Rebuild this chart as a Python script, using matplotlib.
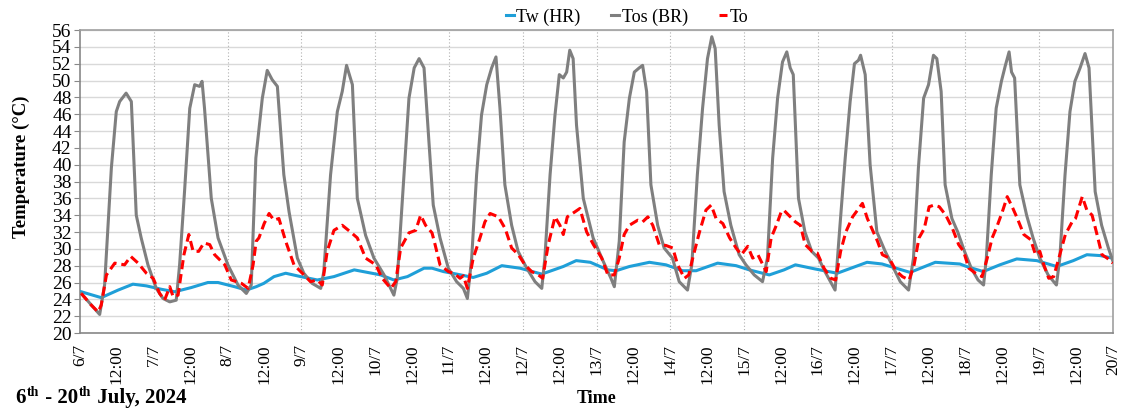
import matplotlib
matplotlib.use("Agg")
import matplotlib.pyplot as plt

# ---------------------------------------------------------------------------
# Data (hours since 6/7 00:00, temperature in degC)
# ---------------------------------------------------------------------------

tw_hours = [0.4, 6.9, 12.4, 17.2, 21.6, 26.4, 30.8, 36.2, 41.6, 44.9, 50.3, 54.1,
            57.3, 59.8, 63.1, 66.9, 71.8, 77.2, 82.6, 89.2, 93.5, 97.8, 102.1,
            106.5, 111.9, 114.5, 118.2, 122.5, 127.9, 132.3, 137.2, 143.1, 150.2,
            157.2, 161.4, 166.0, 171.7, 174.4, 178.7, 185.2, 190.6, 196.0, 200.4,
            207.4, 213.4, 217.7, 224.2, 229.0, 232.7, 239.2, 246.3, 256.0, 260.9,
            270.0, 278.2, 286.2, 288.4, 293.8, 299.2, 304.7, 311.2, 317.7, 323.1,
            327.5, 331.8, 335.8]
tw_vals = [24.9, 24.2, 25.1, 25.8, 25.6, 25.2, 24.9, 25.4, 26.0, 26.0, 25.5, 25.1,
           25.5, 25.9, 26.7, 27.1, 26.7, 26.3, 26.7, 27.5, 27.2, 26.9, 26.3,
           26.7, 27.7, 27.7, 27.3, 27.0, 26.6, 27.1, 28.0, 27.7, 27.0,
           27.9, 28.6, 28.4, 27.5, 27.4, 27.9, 28.4, 28.1, 27.4, 27.4,
           28.3, 28.0, 27.5, 26.9, 27.5, 28.1, 27.6, 27.1, 28.4, 28.2,
           27.2, 28.4, 28.2, 27.9, 27.3, 28.1, 28.8, 28.6, 27.9, 28.6,
           29.3, 29.2, 28.9]

tos_hours = [0.4, 6.4, 8.0, 10.2, 11.8, 12.9, 15.0, 16.7, 18.3, 19.9, 22.1, 24.8,
             27.0, 29.2, 31.3, 32.4, 34.0, 35.7, 37.3, 38.9, 39.7, 40.5, 42.7,
             44.9, 48.1, 51.4, 54.1, 55.7, 57.2, 59.3, 60.9, 62.5, 64.2, 66.3,
             68.0, 70.7, 72.8, 75.5, 78.3, 79.3, 81.5, 83.7, 85.3, 86.7, 88.6,
             90.2, 92.9, 95.6, 98.9, 102.1, 103.2, 105.4, 107.0, 108.7, 110.3,
             111.9, 113.5, 114.9, 117.1, 119.8, 122.5, 124.7, 126.0, 127.4, 129.0,
             130.6, 132.3, 133.9, 135.3, 136.6, 138.2, 140.4, 142.5, 145.3, 148.0,
             150.2, 151.2, 152.9, 154.5, 155.9, 157.2, 158.3, 159.3, 160.4, 161.5,
             163.7, 166.9, 170.2, 172.7, 173.8, 175.4, 177.0, 178.7, 180.3, 181.9,
             183.0, 184.3, 185.7, 187.9, 190.0, 192.7, 194.9, 197.6, 199.0, 200.8,
             202.5, 204.1, 205.5, 206.6, 207.9, 209.5, 211.7, 214.4, 216.6, 219.3,
             222.0, 223.6, 225.3, 226.9, 228.5, 229.9, 231.0, 232.0, 233.7, 235.8,
             238.0, 240.2, 242.3, 245.6, 247.2, 248.9, 250.5, 251.9, 253.2, 253.9,
             255.4, 257.0, 259.2, 261.9, 264.1, 266.8, 269.5, 271.1, 272.7, 274.4,
             276.0, 277.6, 278.7, 280.1, 281.4, 283.6, 285.5, 287.7, 289.9, 292.1,
             293.9, 294.8, 296.4, 298.0, 299.7, 301.0, 302.2, 303.0, 304.0, 305.7,
             307.9, 310.0, 312.2, 314.9, 317.6, 318.7, 320.4, 322.0, 323.6, 325.3,
             326.9, 328.2, 330.2, 332.3, 334.5, 336.0]
tos_vals = [24.7, 22.2, 25.7, 39.6, 46.3, 47.5, 48.5, 47.5, 34.0, 31.3, 28.1, 25.3,
            24.1, 23.7, 23.9, 28.1, 36.8, 46.7, 49.5, 49.3, 49.9, 46.7, 36.0,
            31.3, 28.1, 25.7, 24.7, 25.7, 40.8, 47.9, 51.2, 50.1, 49.3, 38.8,
            34.4, 28.9, 27.1, 25.9, 25.3, 27.3, 38.8, 46.3, 48.7, 51.8, 49.5,
            36.0, 31.6, 28.9, 26.9, 24.5, 26.5, 38.8, 47.9, 51.5, 52.6,
            51.5, 42.7, 35.2, 31.3, 27.7, 26.1, 25.3, 24.1, 28.9, 38.8,
            45.9, 49.5, 51.5, 52.8, 46.7, 37.6, 32.8, 29.7, 27.7, 26.1,
            25.3, 28.9, 38.8, 45.9, 50.7, 50.3, 51.0, 53.6, 52.6, 44.7,
            36.0, 31.3, 28.5, 26.5, 25.5, 30.9, 42.7, 47.9, 51.0, 51.5,
            51.8, 48.7, 37.6, 32.8, 30.1, 28.9, 26.1, 25.1, 28.1, 38.8,
            46.7, 52.6, 55.2, 53.8, 44.7, 36.8, 32.8, 29.3, 28.1, 26.9,
            26.1, 28.9, 40.8, 47.9, 52.2, 53.4, 51.5, 50.7, 36.0, 32.0,
            29.7, 28.9, 27.3, 25.1, 32.8, 40.8, 47.5, 52.0, 52.4, 53.0,
            50.7, 40.0, 32.0, 29.7, 28.1, 26.1, 25.1, 28.9, 39.6, 47.9,
            49.5, 53.0, 52.6, 48.7, 37.6, 33.6, 32.0, 29.7, 27.7, 26.3,
            25.7, 28.9, 38.8, 46.7, 49.9, 51.8, 53.4, 51.0, 50.3, 37.6,
            34.0, 31.3, 28.9, 26.9, 25.7, 28.9, 38.8, 46.3, 49.9, 51.5,
            53.2, 51.5, 36.8, 32.8, 30.1, 28.5]

to_hours = [0.4, 3.7, 5.9, 6.9, 8.6, 11.3, 14.5, 16.5, 18.9, 21.6, 23.8, 25.9,
            27.5, 29.2, 30.3, 31.9, 33.8, 35.4, 36.8, 38.6, 40.3, 42.2, 43.8,
            47.1, 49.2, 52.5, 54.7, 56.3, 57.3, 58.2, 59.9, 61.5, 63.1, 64.7,
            66.9, 69.6, 72.3, 75.0, 77.2, 78.8, 80.4, 82.6, 85.3, 88.0, 90.2,
            92.9, 96.2, 98.3, 101.1, 102.7, 104.3, 107.0, 109.2, 110.8, 112.4,
            114.5, 115.5, 117.1, 119.8, 122.0, 123.6, 124.7, 126.0, 127.9, 130.1,
            131.7, 133.4, 136.1, 138.3, 140.4, 142.6, 144.7, 146.9, 149.1, 150.5,
            152.3, 154.5, 156.1, 157.2, 158.5, 161.0, 162.6, 164.8, 167.0, 169.7,
            171.7, 173.8, 175.4, 177.0, 178.7, 181.4, 183.0, 184.7, 186.3, 188.4,
            190.6, 192.8, 194.4, 196.6, 198.0, 199.3, 201.5, 203.6, 205.3, 206.9,
            209.1, 211.3, 213.4, 215.1, 217.2, 218.8, 220.5, 222.1, 223.2, 224.8,
            226.5, 228.1, 228.9, 230.5, 232.7, 234.3, 235.9, 238.1, 239.8, 242.0,
            244.2, 245.8, 247.4, 249.1, 251.3, 252.9, 254.5, 256.1, 257.8, 259.4,
            261.0, 263.2, 265.4, 267.5, 269.7, 271.3, 272.9, 274.6, 276.2, 277.8,
            279.5, 281.6, 283.8, 285.8, 287.4, 289.1, 291.3, 293.4, 295.1, 296.7,
            298.3, 300.0, 301.6, 303.2, 304.9, 307.0, 309.2, 310.8, 312.2, 313.5,
            315.1, 316.7, 318.4, 320.5, 322.7, 323.8, 326.0, 327.5, 329.2, 330.8,
            332.4, 334.1, 335.9]
to_vals = [24.7, 23.3, 22.5, 23.3, 26.9, 28.3, 28.1, 29.1, 28.3, 27.1, 26.5, 24.7,
           23.9, 25.5, 24.3, 24.5, 29.3, 31.7, 29.7, 29.7, 30.7, 30.5, 29.3,
           28.1, 26.3, 25.9, 25.3, 28.1, 30.9, 31.3, 33.0, 34.2, 33.4, 33.6,
           30.9, 28.1, 27.1, 26.1, 26.3, 25.7, 29.7, 32.2, 32.8, 32.0, 31.3,
           28.9, 28.1, 26.5, 25.3, 26.1, 30.1, 31.9, 32.2, 34.0, 32.8,
           31.9, 30.5, 28.1, 27.3, 27.0, 26.5, 26.8, 25.3, 28.9, 31.3,
           33.2, 34.2, 33.8, 32.4, 30.1, 29.3, 28.1, 27.3, 26.9, 26.5,
           30.5, 33.8, 32.8, 31.7, 33.8, 34.4, 34.8, 32.0, 30.5, 28.9,
           26.9, 26.9, 28.9, 31.7, 32.8, 33.4, 33.2, 33.8, 32.8, 30.5,
           30.4, 30.1, 28.1, 26.5, 26.9, 28.9, 32.0, 34.6, 35.2, 33.6,
           33.0, 31.3, 30.1, 29.3, 30.3, 28.9, 29.3, 28.1, 27.3, 31.3,
           32.8, 34.4, 34.6, 34.0, 33.2, 32.8, 30.5, 29.7, 29.5, 27.7,
           26.5, 26.3, 29.7, 32.0, 33.8, 34.6, 35.4, 33.6, 32.2, 30.9,
           29.3, 28.9, 27.4, 26.7, 26.3, 28.1, 31.3, 32.4, 35.0, 35.2,
           35.0, 34.0, 32.4, 30.5, 29.7, 27.7, 27.1, 26.7, 28.9, 31.3,
           32.7, 34.4, 36.2, 35.0, 33.6, 31.7, 31.1, 29.3, 29.7, 28.1,
           26.5, 26.7, 28.9, 31.7, 33.2, 33.6, 36.2, 34.6, 34.0, 31.7,
           29.3, 28.9, 28.3]

day_labels = ["6/7", "7/7", "8/7", "9/7", "10/7", "11/7", "12/7", "13/7",
              "14/7", "15/7", "16/7", "17/7", "18/7", "19/7", "20/7"]

# ---------------------------------------------------------------------------
# Style
# ---------------------------------------------------------------------------

plt.rcParams["font.family"] = ["Liberation Serif", "DejaVu Serif"]

BLUE = "#1f9fd8"
GREY = "#7f7f7f"
RED  = "#ff0000"

W, H = 1123, 409
fig = plt.figure(figsize=(W / 100, H / 100), dpi=100)
ax  = fig.add_axes([80 / W, 1 - 333 / H, 1033 / W, 303 / H])

ax.plot(tw_hours,  tw_vals,  color=BLUE, linewidth=2.2, label="Tw (HR)", zorder=3)
ax.plot(tos_hours, tos_vals, color=GREY, linewidth=2.2, label="Tos (BR)", zorder=4)
ax.plot(to_hours,  to_vals,  color=RED,  linewidth=2.2, linestyle=(0, (3, 1.6)),
        label="To", zorder=5)

# axes, ticks, grid
ax.set_xlim(0, 336)
ax.set_ylim(20, 56)
ax.set_yticks(range(20, 57, 2))
ax.tick_params(axis="y", labelsize=14, length=4, color="#888888", pad=2)

xticks, xlabels = [], []
for i, lab in enumerate(day_labels):
    xticks.append(i * 24)
    xlabels.append(lab)
    if i < len(day_labels) - 1:
        xticks.append(i * 24 + 12)
        xlabels.append("12:00")
ax.set_xticks(xticks)
ax.set_xticklabels(xlabels, rotation=90, fontsize=12.5)
ax.tick_params(axis="x", length=0, pad=8)

ax.grid(axis="y", color="#d9d9d9", linewidth=1.0, zorder=0)
for i in range(1, len(day_labels) - 1):
    ax.axvline(i * 24, color="#b0b0b0", linewidth=0.8, linestyle=(0, (1, 2)), zorder=1)
ax.set_axisbelow(True)

for s in ax.spines.values():
    s.set_color("#a0a0a0")
    s.set_linewidth(1.2)
ax.spines["left"].set_color("#888888")
ax.spines["bottom"].set_color("#888888")

ax.set_ylabel("Temperature (°C)", fontsize=13.5, fontweight="bold")
ax.yaxis.set_label_coords(-50 / 1033, (333 - 167) / 303)

fig.text(597 / W, 6 / H, "Time", fontsize=13, fontweight="bold",
         ha="center", va="baseline")

# date caption with superscripts, written piece by piece
renderer = fig.canvas.get_renderer()
caption = [("6", 15, 0), ("th", 10, 7), (" - 20", 15, 0), ("th", 10, 7),
           (" July, 2024", 15, 0)]
x_px = 15
for txt, size, dy in caption:
    t = fig.text(x_px / W, (6 + dy) / H, txt, fontsize=size, fontweight="bold",
                 ha="left", va="baseline")
    x_px = t.get_window_extent(renderer).x1 + 1

fig.legend(loc="center", bbox_to_anchor=(627 / W, 1 - 17 / H), ncol=3, frameon=False,
           fontsize=13, handlelength=0.45, handletextpad=0.15, columnspacing=1.7)

fig.savefig("out.png", dpi=100)
